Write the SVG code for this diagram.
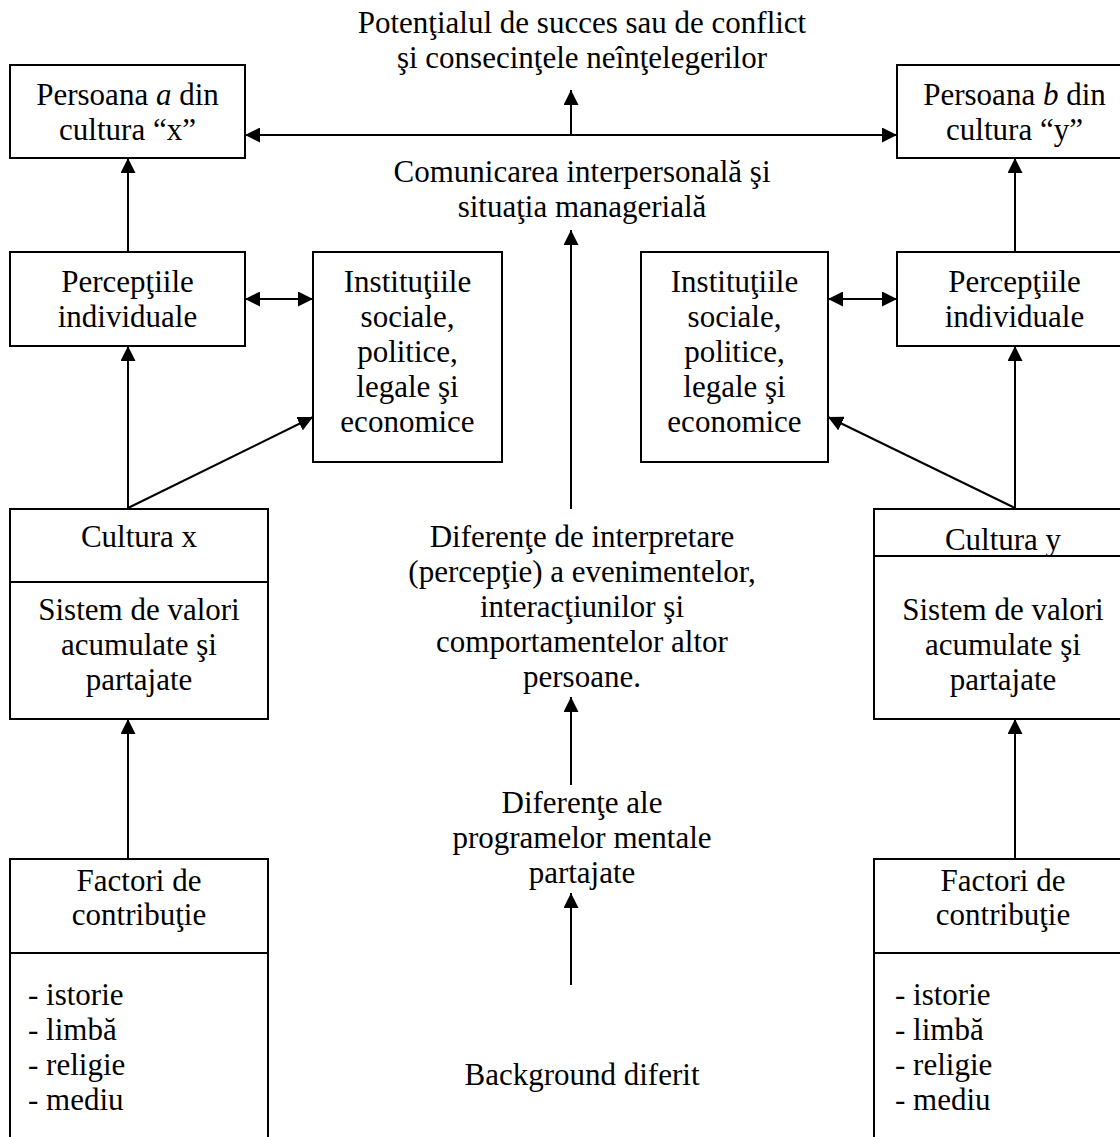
<svg xmlns="http://www.w3.org/2000/svg" width="1120" height="1137" viewBox="0 0 1120 1137">
<defs>
<marker id="ah" markerUnits="userSpaceOnUse" markerWidth="15" markerHeight="15" refX="15" refY="7.5" orient="auto-start-reverse" viewBox="0 0 15 15">
<path d="M0,0 L15,7.5 L0,15 Z" fill="#000"/>
</marker>
<style>
text{font-family:"Liberation Serif","Times New Roman",serif;font-size:31px;fill:#000}
.c{text-anchor:middle}
.box{fill:#fff;stroke:#000;stroke-width:2}
.ln{stroke:#000;stroke-width:2;fill:none}
.ar{stroke:#000;stroke-width:2;fill:none;marker-end:url(#ah)}
.dar{stroke:#000;stroke-width:2;fill:none;marker-start:url(#ah);marker-end:url(#ah)}
</style>
</defs>
<rect width="1120" height="1137" fill="#fff"/>
<g id="connectors">
<line class="dar" x1="245" y1="135" x2="897" y2="135"/>
<line class="ar" x1="571" y1="135" x2="571" y2="90"/>
<line class="ar" x1="571" y1="509" x2="571" y2="230"/>
<line class="ar" x1="571" y1="785" x2="571" y2="697"/>
<line class="ar" x1="571" y1="985" x2="571" y2="893"/>
<line class="ar" x1="128" y1="252" x2="128" y2="158"/>
<line class="ar" x1="128" y1="508" x2="128" y2="346"/>
<line class="ar" x1="128" y1="508" x2="313" y2="417"/>
<line class="dar" x1="245" y1="299" x2="313" y2="299"/>
<line class="ar" x1="128" y1="859" x2="128" y2="719"/>
<line class="ar" x1="1015" y1="252" x2="1015" y2="158"/>
<line class="ar" x1="1015" y1="508" x2="1015" y2="346"/>
<line class="ar" x1="1015" y1="508" x2="828" y2="417"/>
<line class="dar" x1="828" y1="299" x2="897" y2="299"/>
<line class="ar" x1="1015" y1="859" x2="1015" y2="719"/>
</g>
<g id="potential">
<text class="c" x="582" y="33">Potenţialul de succes sau de conflict</text>
<text class="c" x="582" y="68">şi consecinţele neînţelegerilor</text>
</g>
<g id="comunicarea">
<text class="c" x="582" y="182">Comunicarea interpersonală şi</text>
<text class="c" x="582" y="217">situaţia managerială</text>
</g>
<g id="diferente-interpretare">
<text class="c" x="582" y="547">Diferenţe de interpretare</text>
<text class="c" x="582" y="582">(percepţie) a evenimentelor,</text>
<text class="c" x="582" y="617">interacţiunilor şi</text>
<text class="c" x="582" y="652">comportamentelor altor</text>
<text class="c" x="582" y="687">persoane.</text>
</g>
<g id="diferente-programe">
<text class="c" x="582" y="813">Diferenţe ale</text>
<text class="c" x="582" y="848">programelor mentale</text>
<text class="c" x="582" y="883">partajate</text>
</g>
<g id="background">
<text class="c" x="582" y="1085">Background diferit</text>
</g>
<g id="persoana-a">
<rect class="box" x="10" y="65" width="235" height="93"/>
<text class="c" x="127.5" y="105">Persoana <tspan font-style="italic">a</tspan> din</text>
<text class="c" x="127.5" y="140">cultura “x”</text>
</g>
<g id="persoana-b">
<rect class="box" x="897" y="65" width="235" height="93"/>
<text class="c" x="1014.5" y="105">Persoana <tspan font-style="italic">b</tspan> din</text>
<text class="c" x="1014.5" y="140">cultura “y”</text>
</g>
<g id="perceptii-x">
<rect class="box" x="10" y="252" width="235" height="94"/>
<text class="c" x="127.5" y="292">Percepţiile</text>
<text class="c" x="127.5" y="327">individuale</text>
</g>
<g id="institutii-x">
<rect class="box" x="313" y="252" width="189" height="210"/>
<text class="c" x="407.5" y="292">Instituţiile</text>
<text class="c" x="407.5" y="327">sociale,</text>
<text class="c" x="407.5" y="362">politice,</text>
<text class="c" x="407.5" y="397">legale şi</text>
<text class="c" x="407.5" y="432">economice</text>
</g>
<g id="institutii-y">
<rect class="box" x="641" y="252" width="187" height="210"/>
<text class="c" x="734.5" y="292">Instituţiile</text>
<text class="c" x="734.5" y="327">sociale,</text>
<text class="c" x="734.5" y="362">politice,</text>
<text class="c" x="734.5" y="397">legale şi</text>
<text class="c" x="734.5" y="432">economice</text>
</g>
<g id="perceptii-y">
<rect class="box" x="897" y="252" width="235" height="94"/>
<text class="c" x="1014.5" y="292">Percepţiile</text>
<text class="c" x="1014.5" y="327">individuale</text>
</g>
<g id="cultura-x">
<rect class="box" x="10" y="509" width="258" height="210"/>
<line class="ln" x1="10" y1="582" x2="269" y2="582"/>
<text class="c" x="139" y="547">Cultura x</text>
<text class="c" x="139" y="620">Sistem de valori</text>
<text class="c" x="139" y="655">acumulate şi</text>
<text class="c" x="139" y="690">partajate</text>
</g>
<g id="cultura-y">
<rect class="box" x="874" y="509" width="258" height="210"/>
<line class="ln" x1="874" y1="556" x2="1132" y2="556"/>
<text class="c" x="1003" y="550">Cultura y</text>
<text class="c" x="1003" y="620">Sistem de valori</text>
<text class="c" x="1003" y="655">acumulate şi</text>
<text class="c" x="1003" y="690">partajate</text>
</g>
<g id="factori-x">
<rect class="box" x="10" y="859" width="258" height="300"/>
<line class="ln" x1="10" y1="953" x2="268" y2="953"/>
<text class="c" x="139" y="891">Factori de</text>
<text class="c" x="139" y="925">contribuţie</text>
<text x="28" y="1005">- istorie</text>
<text x="28" y="1040">- limbă</text>
<text x="28" y="1075">- religie</text>
<text x="28" y="1110">- mediu</text>
</g>
<g id="factori-y">
<rect class="box" x="874" y="859" width="258" height="300"/>
<line class="ln" x1="874" y1="953" x2="1132" y2="953"/>
<text class="c" x="1003" y="891">Factori de</text>
<text class="c" x="1003" y="925">contribuţie</text>
<text x="895" y="1005">- istorie</text>
<text x="895" y="1040">- limbă</text>
<text x="895" y="1075">- religie</text>
<text x="895" y="1110">- mediu</text>
</g>
</svg>
